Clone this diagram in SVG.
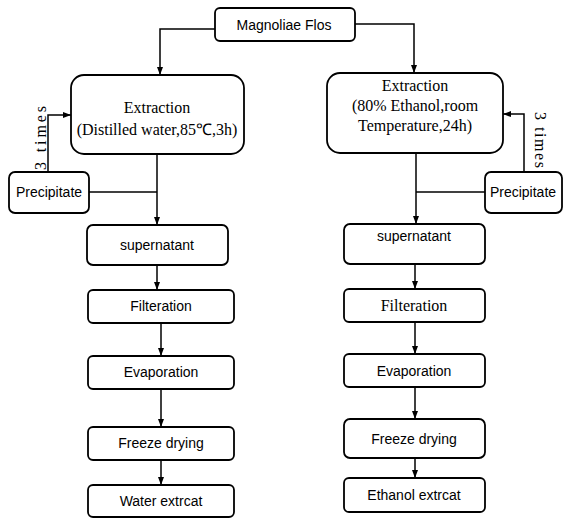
<svg xmlns="http://www.w3.org/2000/svg" width="567" height="518" viewBox="0 0 567 518">
<defs>
<style>
.box{fill:#fff;stroke:#000;stroke-width:1.8}
.ln{fill:none;stroke:#000;stroke-width:1.5}
.sans{font-family:"Liberation Sans",Arial,sans-serif;font-size:14px;fill:#000;text-anchor:middle}
.serif{font-family:"Liberation Serif","Times New Roman",serif;font-size:16px;fill:#000;text-anchor:middle}
</style>
<marker id="ar" markerUnits="userSpaceOnUse" markerWidth="8" markerHeight="8" viewBox="0 0 8 8" refX="8" refY="4" orient="auto">
<path d="M0,1 L8,4 L0,7 Z" fill="#000"/>
</marker>
</defs>
<rect width="567" height="518" fill="#fff"/>
<g id="connectors">
<path class="ln" d="M215,29 H160 V75" marker-end="url(#ar)"/>
<path class="ln" d="M355,24 H414 V73" marker-end="url(#ar)"/>
<path class="ln" d="M157,154 V225" marker-end="url(#ar)"/>
<path class="ln" d="M89,192 H157"/>
<path class="ln" d="M48,172 V115 H71" marker-end="url(#ar)"/>
<path class="ln" d="M416,153 V224" marker-end="url(#ar)"/>
<path class="ln" d="M485,192 H416"/>
<path class="ln" d="M524,172 V114 H503" marker-end="url(#ar)"/>
<path class="ln" d="M157,265 V290" marker-end="url(#ar)"/>
<path class="ln" d="M161,323 V356" marker-end="url(#ar)"/>
<path class="ln" d="M161,389 V427" marker-end="url(#ar)"/>
<path class="ln" d="M161,460 V485" marker-end="url(#ar)"/>
<path class="ln" d="M415,264 V289" marker-end="url(#ar)"/>
<path class="ln" d="M415,322 V354" marker-end="url(#ar)"/>
<path class="ln" d="M415,387 V419" marker-end="url(#ar)"/>
<path class="ln" d="M415,458 V478" marker-end="url(#ar)"/>
<text class="serif" transform="translate(46,138) rotate(-90)" textLength="64" lengthAdjust="spacing">3 times</text>
<text class="serif" transform="translate(535,140) rotate(90)" textLength="56" lengthAdjust="spacing">3 times</text>
</g>
<g id="magnolia">
<rect class="box" x="215" y="8" width="140" height="33" rx="5"/>
<text class="sans" x="284" y="30">Magnoliae Flos</text>
</g>
<g id="extraction-water">
<rect class="box" x="71" y="75" width="173" height="79" rx="13"/>
<text class="serif" x="157" y="113">Extraction</text>
<text class="serif" x="157" y="135">(Distilled water,85℃,3h)</text>
</g>
<g id="extraction-ethanol">
<rect class="box" x="327" y="73" width="176" height="80" rx="13"/>
<text class="serif" x="415" y="91">Extraction</text>
<text class="serif" x="415" y="111">(80% Ethanol,room</text>
<text class="serif" x="415" y="131">Temperature,24h)</text>
</g>
<g id="precipitate-left">
<rect class="box" x="9" y="172" width="80" height="41" rx="6"/>
<text class="sans" x="49" y="197">Precipitate</text>
</g>
<g id="precipitate-right">
<rect class="box" x="485" y="172" width="77" height="41" rx="6"/>
<text class="sans" x="523" y="197">Precipitate</text>
</g>
<g id="supernatant-left">
<rect class="box" x="87" y="225" width="141" height="40" rx="6"/>
<text class="sans" x="157" y="250">supernatant</text>
</g>
<g id="filteration-left">
<rect class="box" x="88" y="290" width="146" height="33" rx="5"/>
<text class="sans" x="161" y="311">Filteration</text>
</g>
<g id="evaporation-left">
<rect class="box" x="88" y="356" width="146" height="33" rx="5"/>
<text class="sans" x="161" y="377">Evaporation</text>
</g>
<g id="freeze-left">
<rect class="box" x="88" y="427" width="146" height="33" rx="5"/>
<text class="sans" x="161" y="448">Freeze drying</text>
</g>
<g id="water-extract">
<rect class="box" x="88" y="485" width="146" height="32" rx="5"/>
<text class="sans" x="161" y="506">Water extrcat</text>
</g>
<g id="supernatant-right">
<rect class="box" x="344" y="224" width="141" height="40" rx="6"/>
<text class="sans" x="414" y="241">supernatant</text>
</g>
<g id="filteration-right">
<rect class="box" x="344" y="289" width="141" height="33" rx="5"/>
<text class="serif" x="414" y="311">Filteration</text>
</g>
<g id="evaporation-right">
<rect class="box" x="344" y="354" width="141" height="33" rx="5"/>
<text class="sans" x="414" y="376">Evaporation</text>
</g>
<g id="freeze-right">
<rect class="box" x="344" y="419" width="141" height="39" rx="6"/>
<text class="sans" x="414" y="444">Freeze drying</text>
</g>
<g id="ethanol-extract">
<rect class="box" x="344" y="478" width="141" height="34" rx="5"/>
<text class="sans" x="414" y="500">Ethanol extrcat</text>
</g>
</svg>
